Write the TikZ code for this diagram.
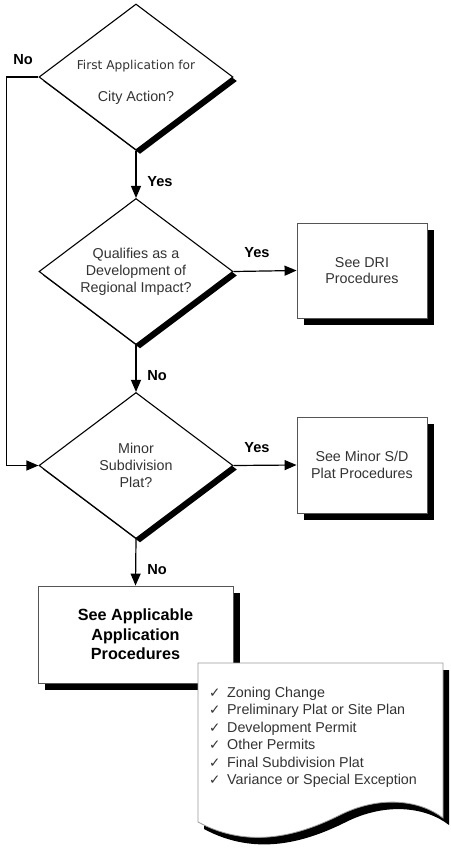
\documentclass[tikz,border=0pt]{standalone}
\usepackage{xcolor}
\usepackage{fontspec}
\setmainfont{Liberation Sans}
\newfontfamily\verdanafont{DejaVu Sans}
\usepackage{tikz}
\usetikzlibrary{shapes.geometric}
\usetikzlibrary{shadows}
\usetikzlibrary{arrows.meta}

\definecolor{txtgray}{HTML}{333333}
\definecolor{boxgray}{HTML}{555555}
\definecolor{docgray}{HTML}{9A9A9A}

\tikzset{
    decision/.style={diamond, draw=black, line width=1.1pt, fill=white,
        minimum width=194pt, minimum height=146pt, inner sep=0pt, aspect=1.33,
        align=center, text=txtgray, font=\fontsize{14.3}{17}\selectfont,
        drop shadow={shadow xshift=4pt, shadow yshift=-4pt, opacity=1, fill=black}},
    procbox/.style={rectangle, draw=boxgray, line width=0.9pt, fill=white,
        minimum width=130pt, minimum height=95pt, align=center, text=txtgray,
        font=\fontsize{14.3}{16.5}\selectfont,
        drop shadow={shadow xshift=7pt, shadow yshift=-7pt, opacity=1, fill=black}},
    flowlabel/.style={font=\fontsize{14.6}{17}\selectfont\bfseries, inner sep=0pt},
    flow/.style={line width=1.2pt, -{Triangle[length=12pt,width=10pt]}}
}

\newcommand{\tick}{\makebox[18pt][l]{\verdanafont\fontsize{13.5}{10}\selectfont ✓}}

\begin{document}
\begin{tikzpicture}[x=1pt, y=-1pt]
    \useasboundingbox (0,0) rectangle (450,849);

    \node[decision] (d1) at (136,77)
        {\verdanafont\fontsize{12.2}{14}\selectfont\rule{0pt}{20pt}First Application for\\[15pt]City Action?};
    \node[decision] (d2) at (136,271.5) {Qualifies as a\\Development of\\Regional Impact?};
    \node[decision] (d3) at (136,465.5) {Minor\\Subdivision\\Plat?};

    \node[procbox] (dri) at (362,270.5) {See DRI\\Procedures};
    \node[procbox, minimum height=96pt] (minor) at (362,465) {See Minor S/D\\Plat Procedures};
    \node[procbox, minimum width=195pt, minimum height=97pt, text=black,
        font=\fontsize{16.2}{19.5}\selectfont\bfseries] (apply) at (135.5,634.5)
        {See Applicable\\Application\\Procedures};

    \begin{scope}[shift={(6,7)}]
        \fill[black] (198,663) -- (198,822) .. controls (250,850) and (300,835) .. (340,815)
            .. controls (380,795) and (420,800) .. (443,818) -- (443,663) -- cycle;
    \end{scope}
    \filldraw[fill=white, draw=docgray, line width=0.8pt] (198,663) -- (198,822)
        .. controls (250,850) and (300,835) .. (340,815)
        .. controls (380,795) and (420,800) .. (443,818) -- (443,663) -- cycle;
    \node[anchor=north west, align=left, inner sep=0pt, text=txtgray,
        font=\fontsize{14.3}{17.5}\selectfont] (permits) at (209,686.5)
        {\tick Zoning Change\\
         \tick Preliminary Plat or Site Plan\\
         \tick Development Permit\\
         \tick Other Permits\\
         \tick Final Subdivision Plat\\
         \tick Variance or Special Exception};

    \draw[flow] (d1.south) -- (d2.north);
    \draw[flow] (d2.south) -- (d3.north);
    \draw[flow] (d3.south) -- (apply.north);
    \draw[flow] (d2.east) -- (dri.west);
    \draw[flow] (d3.east) -- (minor.west);
    \draw[flow] (d1.west) -- ++(-32,0) |- (d3.west);

    \node[flowlabel] (no1) at (23,60) {No};
    \node[flowlabel] (yes1) at (160,182) {Yes};
    \node[flowlabel] (yes2) at (257,253) {Yes};
    \node[flowlabel] (no2) at (157,376) {No};
    \node[flowlabel] (yes3) at (257,448) {Yes};
    \node[flowlabel] (no3) at (157,570) {No};
\end{tikzpicture}
\end{document}
